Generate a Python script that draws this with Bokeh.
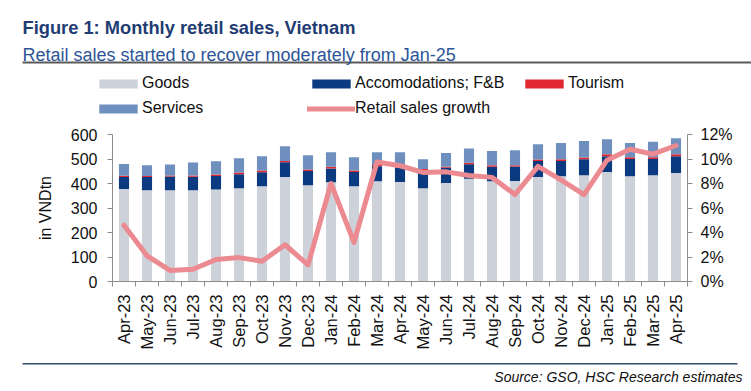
from bokeh.plotting import figure
from bokeh.models import (ColumnDataSource, Range1d, LinearAxis, FixedTicker, SingleIntervalTicker,
                          CustomJSTickFormatter, PrintfTickFormatter, Legend, LegendItem, Label)
from bokeh.embed import file_html
from bokeh.resources import INLINE

months = ["Apr-23", "May-23", "Jun-23", "Jul-23", "Aug-23", "Sep-23", "Oct-23", "Nov-23", "Dec-23",
          "Jan-24", "Feb-24", "Mar-24", "Apr-24", "May-24", "Jun-24", "Jul-24", "Aug-24", "Sep-24",
          "Oct-24", "Nov-24", "Dec-24", "Jan-25", "Feb-25", "Mar-25", "Apr-25"]
goods = [378, 372, 372, 372, 376, 381, 389, 427, 393, 405, 389, 409, 406, 381, 402, 419, 409, 410,
         427, 430, 434, 447, 430, 434, 443]
accom = [49, 55, 57, 56, 55, 57, 57, 60, 58, 56, 58, 61, 58, 73, 62, 60, 59, 59,
         65, 62, 65, 64, 70, 66, 68]
tourism = [5, 4, 4, 5, 6, 7, 7, 5, 6, 7, 6, 6, 6, 5, 4, 6, 6, 5, 6, 7, 7, 8, 7, 7, 8]
services = [48, 43, 45, 53, 54, 58, 58, 60, 58, 60, 54, 52, 58, 40, 56, 58, 59, 62,
            62, 66, 67, 62, 58, 63, 66]
growth = [4.6, 2.1, 0.9, 1.0, 1.8, 1.95, 1.65, 3.0, 1.35, 8.0, 3.2, 9.75, 9.45, 8.9, 8.95, 8.65,
          8.5, 7.1, 9.4, 8.3, 7.1, 9.9, 10.8, 10.4, 11.1]
left_ticks = [0, 100, 200, 300, 400, 500, 600]
series_names = ["Goods", "Accomodations; F&B", "Tourism", "Services"]
line_name = "Retail sales growth"

FONT = "Liberation Sans"
C_GOODS = "#CDD2DA"
C_ACCOM = "#0B3A80"
C_TOUR = "#E0262F"
C_SERV = "#6F8FBE"
C_LINE = "#EC8A91"
AXIS_C = "#8C8C8C"
RULE_TOP = "#5A5A5A"
RULE_BOTTOM = "#2F4E70"

# canvas / plot-area geometry (pixels inside the figure)
W, H = 751, 391
PL, PR, PT, PB = 112, 687, 134, 281
n = len(months)
YMAX, PMAX = 600, 12

xpx = (PR - PL) / n
ypx = (PB - PT) / YMAX
ppx = (PB - PT) / PMAX
x0 = -0.5 - PL / xpx
x1 = n - 0.5 + (W - PR) / xpx
y0 = -(H - PB) / ypx
y1 = YMAX + PT / ypx
p0 = -(H - PB) / ppx
p1 = PMAX + PT / ppx


def dx(fx):
    return x0 + fx / xpx


def dy(fy):
    return y1 - fy / ypx


src = ColumnDataSource(dict(x=list(range(n)), goods=goods, accom=accom,
                            tourism=tourism, services=services, growth=growth))

p = figure(width=W, height=H, output_backend="svg", toolbar_location=None, title=None,
           x_range=Range1d(x0, x1), y_range=Range1d(y0, y1),
           min_border=0, min_border_left=0, min_border_right=0, min_border_top=0, min_border_bottom=0)
p.extra_y_ranges = {"pct": Range1d(p0, p1)}
p.grid.visible = False
p.outline_line_color = None

# bottom rule (decoration)
p.quad(left=dx(22), right=dx(737), top=dy(362.5), bottom=dy(364),
       fill_color=RULE_BOTTOM, line_width=0)

bars = p.vbar_stack(["goods", "accom", "tourism", "services"], x="x", width=0.44, source=src,
                    color=[C_GOODS, C_ACCOM, C_TOUR, C_SERV], line_width=0)
ln = p.line("x", "growth", source=src, y_range_name="pct", line_color=C_LINE, line_width=5,
            line_join="round", line_cap="round")

xa = p.below[0]
xa.fixed_location = 0
xa.bounds = (-0.5, n - 0.5)
xa.ticker = FixedTicker(ticks=list(range(n)), minor_ticks=[i - 0.5 for i in range(n + 1)])
xa.formatter = CustomJSTickFormatter(args=dict(labels=months),
                                     code="return labels[Math.round(tick)] || '';")
xa.major_label_orientation = 3.14159265 / 2
xa.major_tick_out = 0
xa.major_tick_in = 0
xa.minor_tick_out = 5
xa.minor_tick_in = 0
xa.major_label_standoff = 8

ya = p.left[0]
ya.fixed_location = -0.5
ya.bounds = (0, YMAX)
ya.ticker = FixedTicker(ticks=left_ticks)
ya.major_tick_out = 5
ya.major_tick_in = 0
ya.minor_tick_out = 0
ya.minor_tick_in = 0
ya.major_label_standoff = 10
ya.axis_label = "in VNDtn"
ya.axis_label_standoff = 14
ya.axis_label_text_font = FONT
ya.axis_label_text_font_size = "16px"
ya.axis_label_text_font_style = "normal"
ya.axis_label_text_color = "#111111"

ra = LinearAxis(y_range_name="pct", ticker=SingleIntervalTicker(interval=2),
                formatter=PrintfTickFormatter(format="%d%%"))
ra.fixed_location = n - 0.5
ra.bounds = (0, PMAX)
ra.major_tick_out = 5
ra.major_tick_in = 0
ra.minor_tick_out = 0
ra.minor_tick_in = 0
ra.major_label_standoff = 8
p.add_layout(ra, "right")

for ax in [xa, ya, ra]:
    ax.axis_line_color = AXIS_C
    ax.major_tick_line_color = AXIS_C
    ax.minor_tick_line_color = AXIS_C
    ax.major_label_text_font = FONT
    ax.major_label_text_font_size = "16px"
    ax.major_label_text_color = "#111111"
xa.major_label_text_font_size = "16.5px"

# top rule under the subtitle, drawn as a bare axis line (no ticks, no labels)
top_rule = LinearAxis(fixed_location=dy(61.6), bounds=(dx(22), dx(W)), ticker=FixedTicker(ticks=[]),
                      axis_line_color=RULE_TOP, axis_line_width=1.8,
                      major_tick_line_color=None, minor_tick_line_color=None,
                      major_label_text_font_size="0px")
p.add_layout(top_rule, "above")

# legends (two rows)
leg_common = dict(orientation="horizontal", padding=0, margin=0, spacing=6,
                  glyph_width=48, glyph_height=11, label_width=159, label_height=20,
                  label_standoff=0, border_line_color=None, background_fill_alpha=0,
                  label_text_font=FONT, label_text_font_size="16px", label_text_color="#111111")
leg1 = Legend(items=[LegendItem(label=series_names[0], renderers=[bars[0]]),
                     LegendItem(label=series_names[1], renderers=[bars[1]]),
                     LegendItem(label=series_names[2], renderers=[bars[2]])],
              location=(94, H - 93), **leg_common)
leg2 = Legend(items=[LegendItem(label=series_names[3], renderers=[bars[3]]),
                     LegendItem(label=line_name, renderers=[ln])],
              location=(94, H - 118), **leg_common)
p.add_layout(leg1, "center")
p.add_layout(leg2, "center")

# titles and source
p.add_layout(Label(x=22, y=H - 27, x_units="screen", y_units="screen",
                   text="Figure 1: Monthly retail sales, Vietnam", text_font=FONT,
                   text_font_size="18.3px", text_font_style="bold", text_color="#1F3D73",
                   text_baseline="alphabetic", text_align="left"))
p.add_layout(Label(x=22, y=H - 54.5, x_units="screen", y_units="screen",
                   text="Retail sales started to recover moderately from Jan-25", text_font=FONT,
                   text_font_size="18px", text_color="#2C5597",
                   text_baseline="alphabetic", text_align="left"))
p.add_layout(Label(x=742, y=H - 376, x_units="screen", y_units="screen",
                   text="Source: GSO, HSC Research estimates", text_font=FONT,
                   text_font_size="14px", text_font_style="italic", text_color="#111111",
                   text_baseline="alphabetic", text_align="right"))

open("out.html", "w").write(file_html(p, INLINE))
